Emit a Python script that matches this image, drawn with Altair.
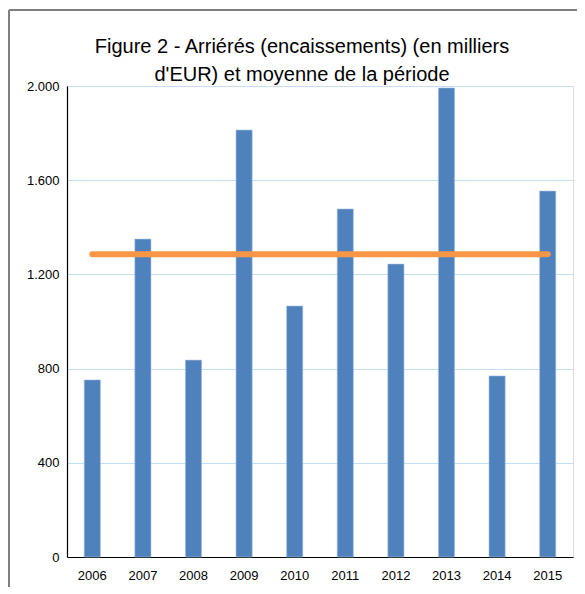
import altair as alt
import pandas as pd

years = ["2006", "2007", "2008", "2009", "2010", "2011", "2012", "2013", "2014", "2015"]
values = [752, 1350, 836, 1813, 1066, 1478, 1244, 1992, 769, 1554]
y_ticks = [0, 400, 800, 1200, 1600, 2000]
title_lines = ["Figure 2 - Arriérés (encaissements) (en milliers", "d'EUR) et moyenne de la période"]

df = pd.DataFrame({"year": years, "value": values})

W, H = 506, 471

x_enc = alt.X("year:N", title=None,
              scale=alt.Scale(paddingInner=0.68, paddingOuter=0.34),
              axis=alt.Axis(labelAngle=0, labelFontSize=13, labelColor="#000000",
                            labelFont="Liberation Sans", labelPadding=12,
                            ticks=False, domainColor="#000000", domainWidth=1.2))

y_scale = alt.Scale(domain=[0, 2000], nice=False)
y_axis = alt.Axis(values=y_ticks, labelFontSize=13, labelColor="#000000",
                  labelFont="Liberation Sans", labelPadding=8, ticks=False,
                  domainColor="#000000", domainWidth=1.2,
                  gridColor="#C5DDF6", gridWidth=1.2,
                  labelExpr="replace(format(datum.value, ','), ',', '.')")

bars = alt.Chart(df).mark_bar(color="#4F81BD", stroke="#A9C4E6", strokeWidth=0.6).encode(
    x=x_enc,
    y=alt.Y("value:Q", title=None, scale=y_scale, axis=y_axis),
)

mean_line = alt.Chart(df).transform_joinaggregate(
    mean_value="mean(value)"
).mark_line(color="#F79646", strokeWidth=6, strokeCap="round").encode(
    x=alt.X("year:N"),
    y=alt.Y("mean_value:Q", scale=y_scale),
)

frame_left = alt.Chart(df).mark_rule(color="#7F7F7F", strokeWidth=1.2).encode(
    x=alt.value(-58), y=alt.value(-76), y2=alt.value(H + 40)
)
frame_top = alt.Chart(df).mark_rule(color="#7F7F7F", strokeWidth=1.2).encode(
    x=alt.value(-58), x2=alt.value(W + 10), y=alt.value(-76)
)

title_marks = [
    alt.Chart(df.head(1)).mark_text(fontSize=20, font="Liberation Sans", color="#000000",
                                    align="center", baseline="alphabetic").encode(
        x=alt.value(W / 2 - 18), y=alt.value(-33 + 28 * i), text=alt.value(line)
    )
    for i, line in enumerate(title_lines)
]

chart = alt.layer(bars, mean_line, frame_left, frame_top, *title_marks).properties(
    width=W, height=H,
    autosize=alt.AutoSizeParams(type="none"),
    padding={"left": 59, "top": 78, "right": 4, "bottom": 30},
).configure_view(stroke=None).configure(background="#FFFFFF")

chart.save("out.html", embed_options={"renderer": "svg", "actions": False})
